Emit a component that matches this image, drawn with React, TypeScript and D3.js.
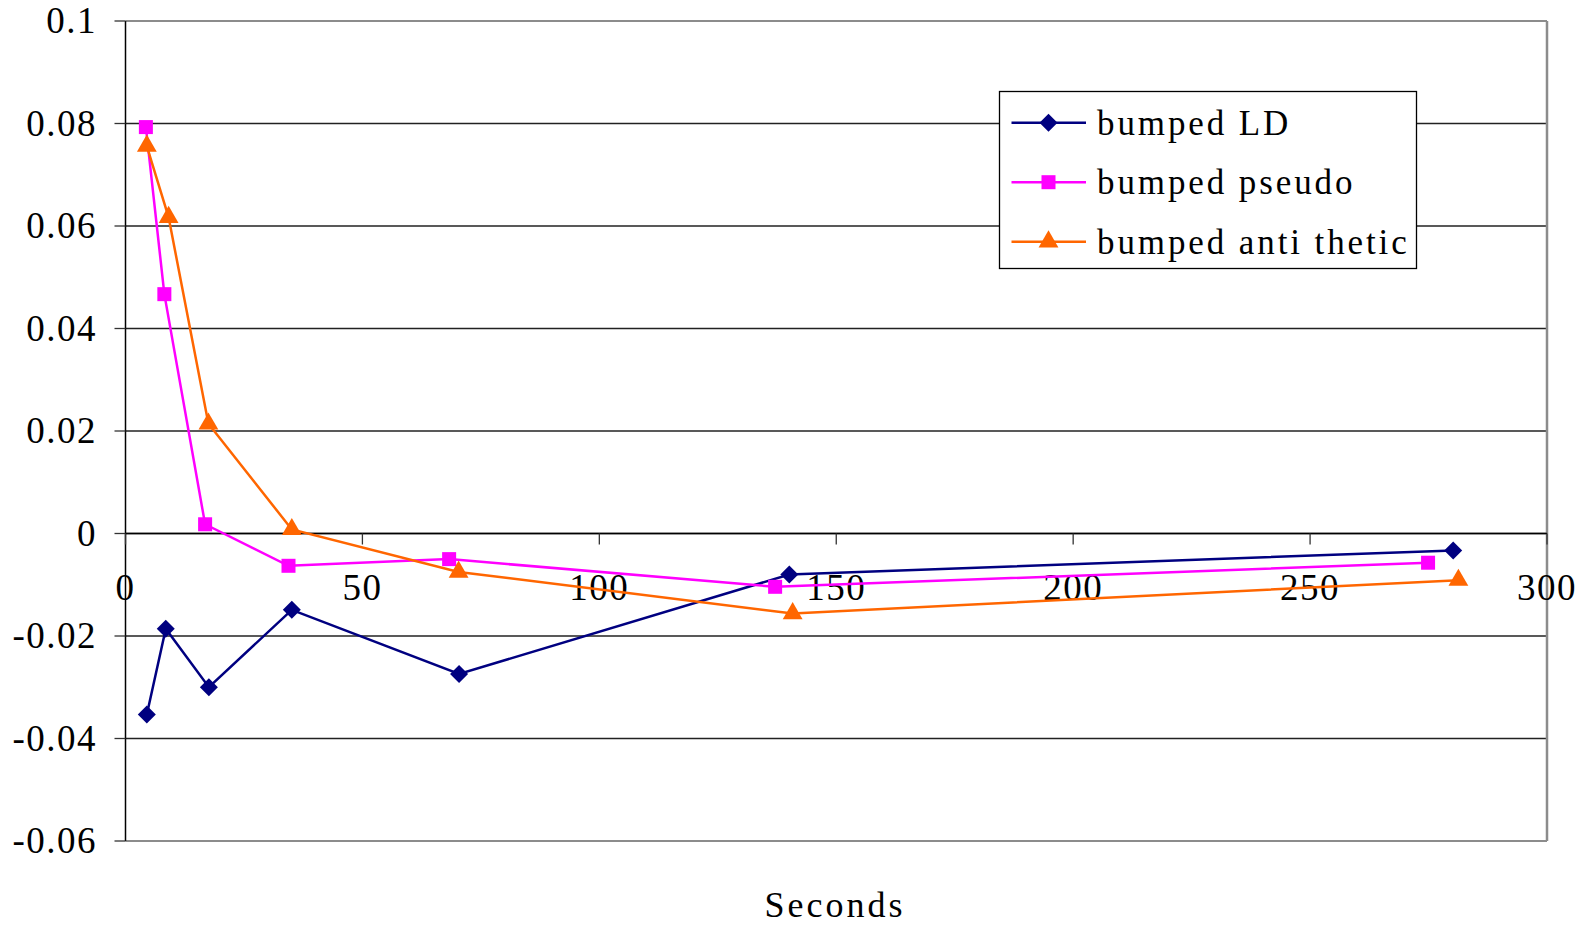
import React from "react";
import * as d3 from "d3";

// Error versus run time for three bumped estimators
const ldSeconds = [4.5, 8.5, 17.6, 35.1, 70.4, 140.1, 280.2];
const ldValues = [-0.0353, -0.0186, -0.03, -0.0149, -0.0274, -0.008, -0.0033];

const pseudoSeconds = [4.3, 8.2, 16.8, 34.4, 68.3, 137.1, 274.9];
const pseudoValues = [0.0793, 0.0467, 0.0018, -0.0063, -0.005, -0.0104, -0.0057];

const antiSeconds = [4.5, 9.1, 17.5, 35.1, 70.3, 140.8, 281.3];
const antiValues = [0.0756, 0.0617, 0.0214, 0.0008, -0.0075, -0.0156, -0.0091];

const xTicks = [0, 50, 100, 150, 200, 250, 300];
const yTicks = [0.1, 0.08, 0.06, 0.04, 0.02, 0, -0.02, -0.04, -0.06];
const yTickLabels = ["0.1", "0.08", "0.06", "0.04", "0.02", "0", "-0.02", "-0.04", "-0.06"];

const seriesNames = ["bumped LD", "bumped pseudo", "bumped anti thetic"];
const seriesColors = ["#000080", "#FF00FF", "#FF6600"];
const seriesShapes = ["diamond", "square", "triangle"];

const W = 1586;
const H = 925;
const left = 125.5;
const right = 1547;
const top = 21;
const bottom = 841;
const FONT = "Liberation Serif";

function Marker({ shape, x, y, color }: { shape: string; x: number; y: number; color: string }) {
  if (shape === "diamond") {
    const r = 9;
    return <path d={`M${x},${y - r}L${x + r},${y}L${x},${y + r}L${x - r},${y}Z`} fill={color} />;
  }
  if (shape === "square") {
    const s = 14;
    return <rect x={x - s / 2} y={y - s / 2} width={s} height={s} fill={color} />;
  }
  const sym = d3.symbol().type(d3.symbolTriangle).size(170)();
  return <path d={sym || ""} transform={`translate(${x},${y})`} fill={color} />;
}

export default function App() {
  const x = d3.scaleLinear().domain([0, 300]).range([left, right]);
  const y = d3.scaleLinear().domain([-0.06, 0.1]).range([bottom, top]);

  const series = [
    { xs: ldSeconds, ys: ldValues },
    { xs: pseudoSeconds, ys: pseudoValues },
    { xs: antiSeconds, ys: antiValues },
  ];

  const line = d3
    .line<[number, number]>()
    .x((d) => x(d[0]))
    .y((d) => y(d[1]));

  const y0 = y(0);
  const txt = { fontFamily: FONT };

  return (
    <svg
      width={W}
      height={H}
      style={{ position: "absolute", left: 0, top: 0, background: "#fff" }}
    >
      {/* horizontal gridlines */}
      {yTicks.map((t, i) => {
        const edge = t === 0.1 || t === -0.06;
        return (
          <line
            key={"g" + i}
            x1={left}
            x2={right}
            y1={y(t)}
            y2={y(t)}
            stroke={edge ? "#8c8c8c" : "#222"}
            strokeWidth={edge ? 2 : 1.3}
          />
        );
      })}
      {/* right border */}
      <line x1={right} x2={right} y1={top} y2={bottom} stroke="#8c8c8c" strokeWidth={2.5} />
      {/* y axis */}
      <line x1={left} x2={left} y1={top} y2={bottom} stroke="#000" strokeWidth={1.5} />
      {yTicks.map((t, i) => (
        <g key={"yt" + i}>
          <line x1={left - 11} x2={left} y1={y(t)} y2={y(t)} stroke="#333" strokeWidth={1.3} />
          <text
            x={97}
            y={y(t) + 12}
            textAnchor="end"
            fontSize={37}
            letterSpacing={1.5}
            fill="#000"
            style={txt}
          >
            {yTickLabels[i]}
          </text>
        </g>
      ))}
      {/* x axis at zero */}
      <line x1={left} x2={right} y1={y0} y2={y0} stroke="#000" strokeWidth={1.5} />
      {xTicks.map((t, i) => (
        <g key={"xt" + i}>
          <line x1={x(t)} x2={x(t)} y1={y0} y2={y0 + 11} stroke="#333" strokeWidth={1.3} />
          <text x={x(t)} y={y0 + 66} textAnchor="middle" fontSize={37} letterSpacing={1.5} fill="#000" style={txt}>
            {t}
          </text>
        </g>
      ))}
      <text x={835} y={917} textAnchor="middle" fontSize={36} letterSpacing={3} fill="#000" style={txt}>
        Seconds
      </text>

      {/* series */}
      {series.map((s, si) => {
        const pts: [number, number][] = s.xs.map((v, k) => [v, s.ys[k]]);
        return (
          <g key={"s" + si}>
            <path d={line(pts) || ""} fill="none" stroke={seriesColors[si]} strokeWidth={2.5} />
            {pts.map((p, k) => (
              <Marker key={k} shape={seriesShapes[si]} x={x(p[0])} y={y(p[1])} color={seriesColors[si]} />
            ))}
          </g>
        );
      })}

      {/* legend */}
      <rect x={999.5} y={91.5} width={417} height={177} fill="#fff" stroke="#000" strokeWidth={1.3} />
      {seriesNames.map((name, i) => {
        const ry = 122.7 + i * 59.5;
        return (
          <g key={"lg" + i}>
            <line x1={1011.5} x2={1086} y1={ry} y2={ry} stroke={seriesColors[i]} strokeWidth={2.5} />
            <Marker shape={seriesShapes[i]} x={1048.5} y={ry} color={seriesColors[i]} />
            <text x={1097} y={ry + 12} fontSize={35} letterSpacing={2.9} fill="#000" style={txt}>
              {name}
            </text>
          </g>
        );
      })}
    </svg>
  );
}
